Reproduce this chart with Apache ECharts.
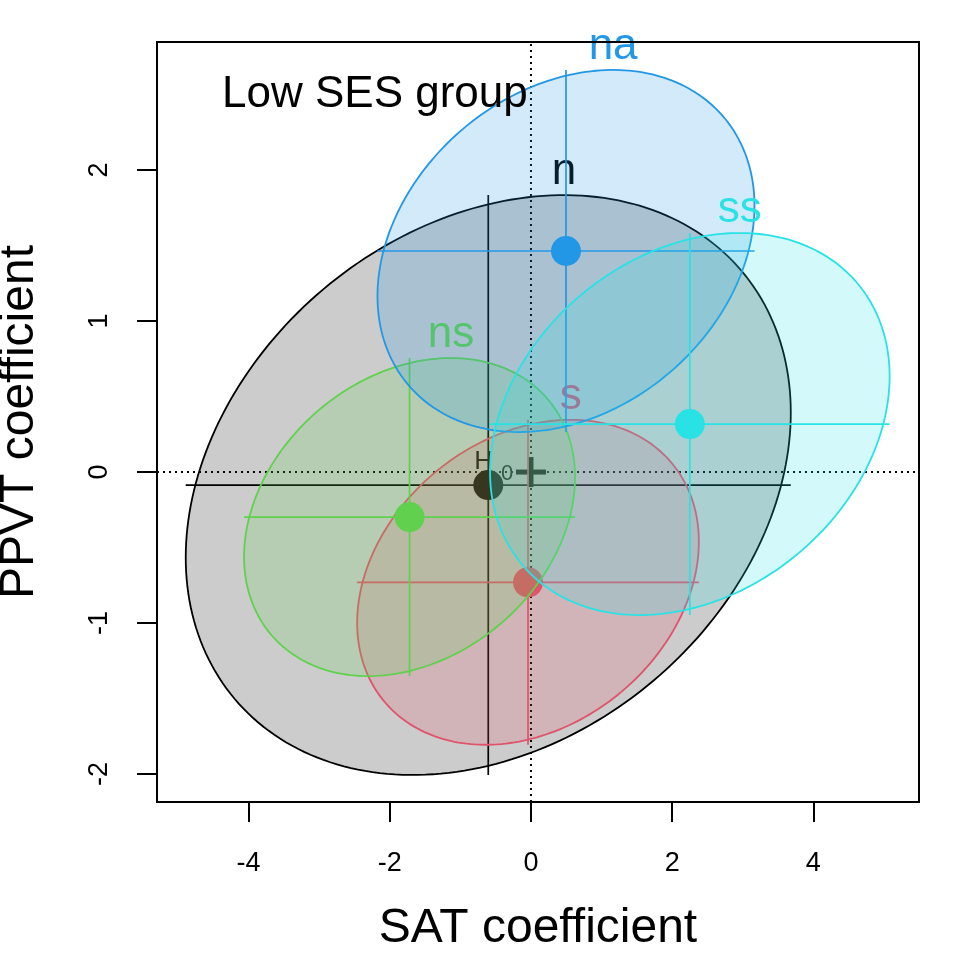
<!DOCTYPE html>
<html>
<head>
<meta charset="utf-8">
<script src="https://cdn.jsdelivr.net/npm/echarts@6/dist/echarts.min.js"></script>
<style>
html,body{margin:0;padding:0;background:#fff;}
#chart{width:960px;height:960px;}
</style>
</head>
<body>
<div id="chart"></div>
<script>
// ---- data ----
const GROUPS = ['n', 's', 'ns', 'na', 'ss'];
const SAT_COEF = [-0.605, -0.042, -1.72, 0.496, 2.25];
const PPVT_COEF = [-0.086, -0.73, -0.298, 1.464, 0.318];
const SAT_HALF = [4.285, 2.42, 2.344, 2.67, 2.83];
const PPVT_HALF = [1.92, 1.076, 1.053, 1.199, 1.265];
const COEF_CORR = 0.25;
const H0_POINT = [0, 0];
const X_TICKS = [-4, -2, 0, 2, 4];
const Y_TICKS = [-2, -1, 0, 1, 2];
const X_RANGE = [-5.297, 5.496];
const Y_RANGE = [-2.185, 2.848];
const TITLE_TEXT = 'Low SES group';

// ---- styles ----
const COLORS = ['#000000', '#DF536B', '#61D04F', '#2297E6', '#28E2E5'];
const FONT = '"Liberation Sans", Arimo, Arial, sans-serif';

function rgba(hex, a) {
  const r = parseInt(hex.slice(1, 3), 16), g = parseInt(hex.slice(3, 5), 16), b = parseInt(hex.slice(5, 7), 16);
  return 'rgba(' + r + ',' + g + ',' + b + ',' + a + ')';
}

const chart = echarts.init(document.getElementById('chart'), null, {renderer: 'canvas'});

const groupData = GROUPS.map((g, i) => [SAT_COEF[i], PPVT_COEF[i], SAT_HALF[i], PPVT_HALF[i], i]);

function renderGroup(params, api) {
  const cx = api.value(0), cy = api.value(1), hw = api.value(2), hh = api.value(3), idx = api.value(4);
  const col = COLORS[idx];
  const r = COEF_CORR, s = Math.sqrt(1 - r * r);
  const N = 240;
  const pts = [];
  for (let k = 0; k < N; k++) {
    const t = 2 * Math.PI * k / N;
    pts.push(api.coord([cx + hw * Math.cos(t), cy + hh * (r * Math.cos(t) + s * Math.sin(t))]));
  }
  const base = idx * 10 + 10;
  const c = api.coord([cx, cy]);
  const hl = api.coord([cx - hw, cy]), hr = api.coord([cx + hw, cy]);
  const vb = api.coord([cx, cy - hh]), vt = api.coord([cx, cy + hh]);
  const top = api.coord([cx + r * hw, cy + hh]);
  return {
    type: 'group',
    children: [
      {type: 'polygon', z2: base, shape: {points: pts}, style: {fill: rgba(col, 0.2), stroke: col, lineWidth: 1.8}},
      {type: 'line', z2: base + 1, shape: {x1: hl[0], y1: hl[1], x2: hr[0], y2: hr[1]}, style: {stroke: col, lineWidth: 1.7}},
      {type: 'line', z2: base + 1, shape: {x1: vb[0], y1: vb[1], x2: vt[0], y2: vt[1]}, style: {stroke: col, lineWidth: 1.7}},
      {type: 'circle', z2: base + 2, shape: {cx: c[0], cy: c[1], r: 15}, style: {fill: col}},
      {type: 'text', z2: base + 3, x: top[0], y: top[1] - 23,
        style: {text: GROUPS[idx], fill: col, font: '44px ' + FONT, align: 'center', verticalAlign: 'middle'}}
    ]
  };
}

function renderRefs(params, api) {
  const x0 = api.value(0), y0 = api.value(1);
  const a = api.coord([x0, Y_RANGE[0]]), b = api.coord([x0, Y_RANGE[1]]);
  const c = api.coord([X_RANGE[0], y0]), d = api.coord([X_RANGE[1], y0]);
  return {
    type: 'group',
    children: [
      {type: 'line', z2: 1, shape: {x1: a[0], y1: a[1], x2: b[0], y2: b[1]}, style: {stroke: '#000', lineWidth: 2, lineDash: [2, 4]}},
      {type: 'line', z2: 1, shape: {x1: c[0], y1: c[1], x2: d[0], y2: d[1]}, style: {stroke: '#000', lineWidth: 2, lineDash: [2, 4]}}
    ]
  };
}

function renderH0(params, api) {
  const p = api.coord([api.value(0), api.value(1)]);
  return {
    type: 'group',
    children: [
      {type: 'rect', z2: 2, shape: {x: p[0] - 15, y: p[1] - 2.5, width: 30, height: 5}, style: {fill: '#000'}},
      {type: 'rect', z2: 2, shape: {x: p[0] - 2.5, y: p[1] - 15, width: 5, height: 30}, style: {fill: '#000'}},
      {type: 'text', z2: 2, x: p[0] - 38, y: p[1] - 10, style: {text: 'H', fill: '#000', font: '26px ' + FONT, align: 'right', verticalAlign: 'middle'}},
      {type: 'text', z2: 2, x: p[0] - 30, y: p[1] + 2, style: {text: '0', fill: '#000', font: '22px ' + FONT, align: 'left', verticalAlign: 'middle'}}
    ]
  };
}

const axisCommon = {
  type: 'value',
  splitLine: {show: false},
  axisLine: {show: true, onZero: false, lineStyle: {color: '#000', width: 2}}
};

chart.setOption({
  animation: false,
  backgroundColor: '#fff',
  title: {text: TITLE_TEXT, left: 217, top: 68, textStyle: {fontSize: 44, fontWeight: 'normal', color: '#000', fontFamily: FONT, lineHeight: 44}},
  grid: {left: 157, top: 42, width: 762, height: 760, containLabel: false, outerBoundsMode: 'none',
    show: true, borderColor: '#000', borderWidth: 2, backgroundColor: 'transparent'},
  xAxis: [
    Object.assign({}, axisCommon, {
      min: X_RANGE[0], max: X_RANGE[1], position: 'bottom',
      axisTick: {show: true, customValues: X_TICKS, length: 20, lineStyle: {color: '#000', width: 2}},
      axisLabel: {show: true, customValues: X_TICKS, fontSize: 27, color: '#000', fontFamily: FONT, margin: 48},
      name: 'SAT coefficient', nameLocation: 'middle', nameGap: 103,
      nameTextStyle: {fontSize: 48, color: '#000', fontFamily: FONT}
    }),
    Object.assign({}, axisCommon, {
      min: X_RANGE[0], max: X_RANGE[1], position: 'top', z: 10,
      axisTick: {show: false}, axisLabel: {show: false}
    })
  ],
  yAxis: [
    Object.assign({}, axisCommon, {
      min: Y_RANGE[0], max: Y_RANGE[1], position: 'left',
      axisTick: {show: true, customValues: Y_TICKS, length: 20, lineStyle: {color: '#000', width: 2}},
      axisLabel: {show: true, customValues: Y_TICKS, rotate: 90, fontSize: 27, color: '#000', fontFamily: FONT, margin: 44},
      name: 'PPVT coefficient', nameLocation: 'middle', nameGap: 113, nameRotate: 90,
      nameTextStyle: {fontSize: 48, color: '#000', fontFamily: FONT}
    }),
    Object.assign({}, axisCommon, {
      min: Y_RANGE[0], max: Y_RANGE[1], position: 'right', z: 10,
      axisTick: {show: false}, axisLabel: {show: false}
    })
  ],
  series: [
    {type: 'custom', name: 'refs', clip: false, xAxisIndex: 0, yAxisIndex: 0, data: [H0_POINT], renderItem: renderRefs, silent: true},
    {type: 'custom', name: 'H0', clip: false, xAxisIndex: 0, yAxisIndex: 0, data: [H0_POINT], renderItem: renderH0, silent: true},
    {type: 'custom', name: 'groups', clip: false, xAxisIndex: 0, yAxisIndex: 0, data: groupData, renderItem: renderGroup, silent: true}
  ]
});
</script>
</body>
</html>
